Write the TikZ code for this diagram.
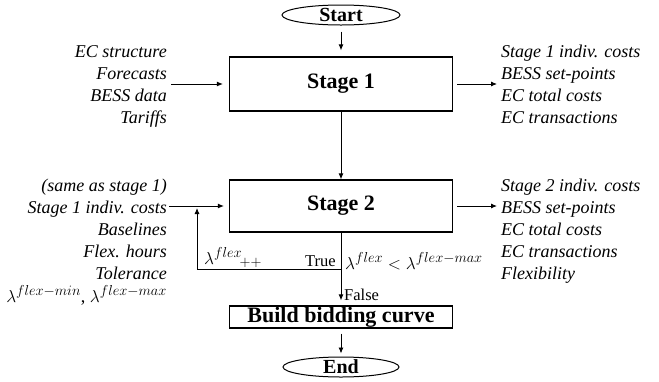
\documentclass[tikz,border=0pt]{standalone}
\usepackage{fontspec}
\setmainfont{Liberation Serif}
\DeclareMathSizes{18}{18}{14}{11}
\usetikzlibrary{arrows.meta,shapes.geometric}
\begin{document}
\begin{tikzpicture}[x=1pt,y=-1pt,
  side/.style={font=\fontsize{18}{22}\selectfont\itshape, inner sep=0pt},
  mathtext/.style={font=\fontsize{18}{20}\selectfont, inner sep=0pt},
  small/.style={font=\fontsize{16.5}{20}\selectfont, inner sep=0pt},
  stagebox/.style={draw, line width=1.2pt, inner sep=0pt,
    font=\fontsize{22}{26}\selectfont\bfseries},
  oval/.style={draw, ellipse, line width=1pt, inner sep=0pt},
  ovaltext/.style={font=\fontsize{20}{24}\selectfont\bfseries, inner sep=0pt},
  flow/.style={line width=0.9pt, -{Latex[length=6pt,width=5pt]}}]
\useasboundingbox (0,0) rectangle (659,381);

% terminals
\node[oval, minimum width=118pt, minimum height=20pt] (start) at (341,15) {};
\node[ovaltext, anchor=base] (starttext) at (341,21.5) {Start};
\node[oval, minimum width=116pt, minimum height=20pt] (end) at (341,367) {};
\node[ovaltext, anchor=base] (endtext) at (341,373.5) {End};

% process boxes
\node[stagebox, minimum width=223pt, minimum height=54pt] (s1) at (341,84) {Stage 1};
\node[stagebox, minimum width=223pt, minimum height=52pt] (s2) at (341,206) {Stage 2};
\node[stagebox, minimum width=223pt, minimum height=22pt] (bid) at (341,317) {Build bidding curve};

% stage 1 inputs and outputs
\foreach \t [count=\i] in {EC structure, Forecasts, BESS data, Tariffs}
  \node[side, anchor=base east] (inA\i) at (167, {57+22*(\i-1)}) {\t};
\foreach \t [count=\i] in {Stage 1 indiv. costs, BESS set-points, EC total costs, EC transactions}
  \node[side, anchor=base west] (outA\i) at (501, {57+22*(\i-1)}) {\t};

% stage 2 inputs and outputs
\foreach \t [count=\i] in {(same as stage 1), Stage 1 indiv. costs, Baselines, Flex. hours, Tolerance}
  \node[side, anchor=base east] (inB\i) at (167, {191+22*(\i-1)}) {\t};
\node[mathtext, anchor=base east] (inB6) at (167, 302)
  {$\lambda^{flex-min}$, $\lambda^{flex-max}$};
\foreach \t [count=\i] in {Stage 2 indiv. costs, BESS set-points, EC total costs, EC transactions, Flexibility}
  \node[side, anchor=base west] (outB\i) at (501, {191+22*(\i-1)}) {\t};

% main flow
\draw[flow, shorten <=6pt, shorten >=6pt] (start) -- (s1);
\draw[flow] (s1) -- (s2);
\draw[flow, shorten >=5pt] (s2) -- (bid);
\draw[flow, shorten <=5pt, shorten >=3pt] (bid) -- (end);

\draw[flow, shorten <=4pt, shorten >=6pt] (s1.west -| inA1.east) -- (s1.west);
\draw[flow, shorten <=4pt, shorten >=4pt] (s1.east) -- (s1.east -| outA1.west);
\draw[flow, shorten <=2pt, shorten >=5pt] (s2.west -| inB2.east) -- (s2.west);
\draw[flow, shorten <=4pt, shorten >=4pt] (s2.east) -- (s2.east -| outB1.west);

% flexibility loop
\coordinate (tee) at (341,269);
\coordinate (corner) at (197,269);
\coordinate (loopup) at (197,208);
\draw[flow] (tee) -- (corner) -- (loopup);
\node[mathtext, anchor=base west] (incr) at (204,264) {$\lambda^{flex}{}_{\!++}$};
\node[small, anchor=base east] (truelbl) at (336,266) {True};
\node[mathtext, anchor=base west] (cond) at (345,269) {$\lambda^{flex} < \lambda^{flex-max}$};
\node[small, anchor=base west] (falselbl) at (344,300) {False};
\end{tikzpicture}
\end{document}
